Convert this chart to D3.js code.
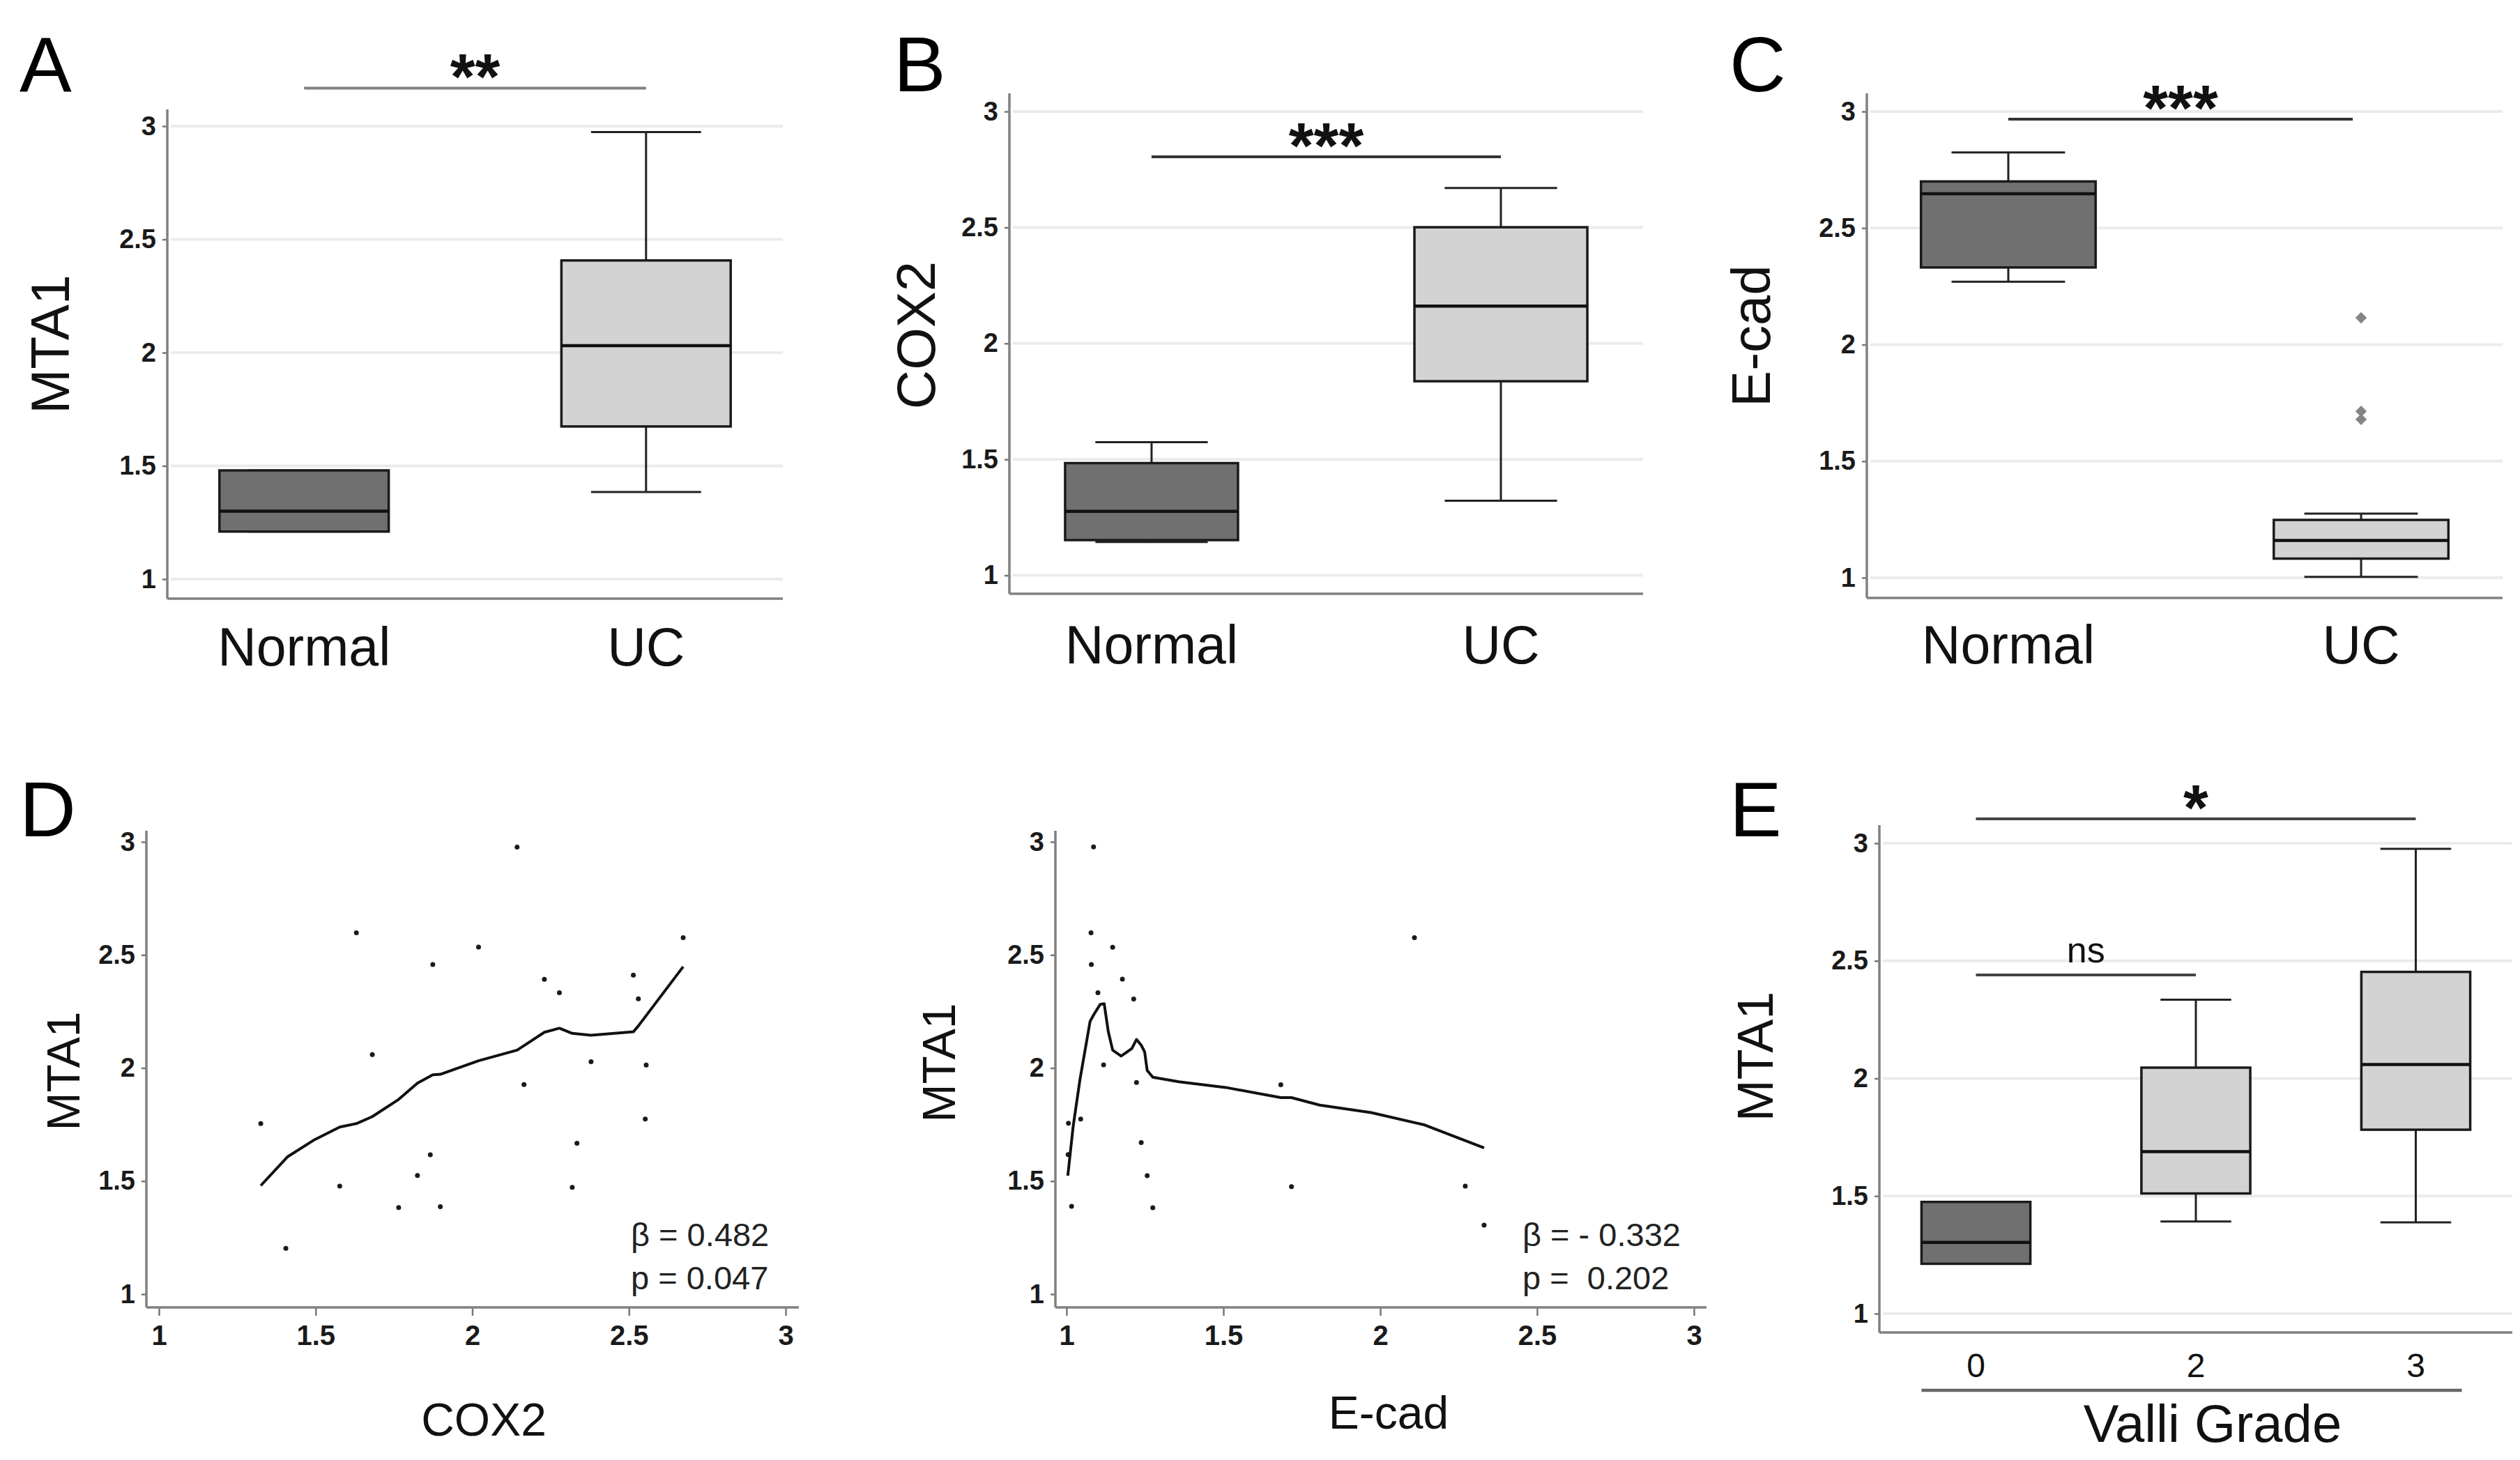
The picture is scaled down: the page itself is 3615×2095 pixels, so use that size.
<!DOCTYPE html>
<html>
<head>
<meta charset="utf-8">
<script src="https://cdn.jsdelivr.net/npm/d3@7"></script>
<style>
    body { margin: 0; background: #fff; }
    svg { display: block; font-family: "Liberation Sans", Arial, sans-serif; }
</style>
</head>
<body>
<svg id="fig"></svg>
<script>
// ---- data ----
// box stats are [min, q1, median, q3, max]
const groupCats = ['Normal', 'UC'];
const gradeCats = ['0', '2', '3'];
const yTicks = [1, 1.5, 2, 2.5, 3];
const xTicks = [1, 1.5, 2, 2.5, 3];

const mta1Stats = [[1.21, 1.21, 1.30, 1.48, 1.48], [1.385, 1.674, 2.031, 2.407, 2.974]];
const cox2Stats = [[1.144, 1.152, 1.276, 1.484, 1.574], [1.322, 1.837, 2.161, 2.501, 2.670]];
const ecadStats = [[2.270, 2.331, 2.647, 2.700, 2.824], [1.004, 1.082, 1.160, 1.248, 1.275]];
const ecadOutliers = [[], [2.115, 1.714, 1.679]];
const gradeStats = [[1.212, 1.212, 1.303, 1.475, 1.475], [1.392, 1.511, 1.689, 2.046, 2.335], [1.388, 1.782, 2.059, 2.453, 2.976]];

// panel D, left: MTA1 vs COX2
const cox2X = [1.325, 1.405, 1.577, 1.630, 1.681, 1.765, 1.825, 1.866, 1.874, 1.898, 2.020, 2.143,
    2.165, 2.230, 2.278, 2.319, 2.334, 2.379, 2.514, 2.530, 2.555, 2.552, 2.673];
const cox2MtaY = [1.754, 1.203, 1.478, 2.598, 2.059, 1.383, 1.525, 1.616, 2.458, 1.387, 2.535, 2.977,
    1.927, 2.392, 2.333, 1.472, 1.667, 2.028, 2.411, 2.306, 2.013, 1.774, 2.576];
const cox2FitX = [1.325, 1.411, 1.493, 1.577, 1.630, 1.681, 1.765, 1.825, 1.874, 1.898, 2.020, 2.143,
    2.230, 2.278, 2.319, 2.379, 2.514, 2.530, 2.673];
const cox2FitY = [1.480, 1.608, 1.680, 1.739, 1.754, 1.785, 1.861, 1.933, 1.970, 1.972, 2.032, 2.079,
    2.158, 2.176, 2.153, 2.145, 2.160, 2.186, 2.448];

// panel D, right: MTA1 vs E-cad
const ecadX = [1.086, 1.078, 1.147, 1.079, 1.178, 1.100, 1.214, 1.118, 1.223, 1.683, 1.045, 1.006,
    1.005, 1.238, 1.257, 1.016, 1.275, 1.717, 2.109, 2.271, 2.331];
const ecadMtaY = [2.978, 2.598, 2.534, 2.458, 2.393, 2.333, 2.305, 2.014, 1.936, 1.926, 1.774, 1.756,
    1.617, 1.670, 1.524, 1.388, 1.382, 1.475, 2.576, 1.478, 1.305];
const ecadFitX = [1.004, 1.021, 1.043, 1.075, 1.088, 1.107, 1.120, 1.133, 1.147, 1.174, 1.208, 1.223,
    1.238, 1.249, 1.257, 1.275, 1.358, 1.507, 1.683, 1.717, 1.807, 1.971, 2.142, 2.331];
const ecadFitY = [1.524, 1.741, 1.951, 2.206, 2.239, 2.281, 2.284, 2.161, 2.079, 2.053, 2.086, 2.126,
    2.101, 2.071, 1.989, 1.959, 1.939, 1.914, 1.869, 1.869, 1.836, 1.803, 1.748, 1.647];

const W = 3615, H = 2095;
const FONT_TICK = 38;
const DARK = '#707070', LIGHT = '#d3d3d3';

const svg = d3.select('#fig').attr('width', W).attr('height', H);
svg.append('rect').attr('width', W).attr('height', H).attr('fill', '#fff');

// panel letters
[['A', 28, 131], ['B', 1282, 131], ['C', 2481, 131], ['D', 28, 1200], ['E', 2481, 1200]].forEach(([t, x, y]) => {
    svg.append('text').attr('x', x).attr('y', y).attr('font-size', 112).attr('fill', '#000').text(t);
});

function yLabel(g, text, cx, cy, size) {
    g.append('text')
        .attr('transform', `translate(${cx + size * 0.358},${cy}) rotate(-90)`)
        .attr('text-anchor', 'middle')
        .attr('font-size', size)
        .attr('fill', '#111')
        .text(text);
}

function drawYAxis(g, y, x0, yTop, yBot) {
    const ax = g.append('g')
        .attr('transform', `translate(${x0},0)`)
        .call(d3.axisLeft(y).tickValues(yTicks).tickFormat(d3.format('')).tickSize(7).tickPadding(9));
    ax.select('.domain').remove();
    ax.selectAll('.tick line').attr('stroke', '#777').attr('stroke-width', 2.5);
    ax.selectAll('.tick text')
        .attr('font-size', FONT_TICK).attr('font-weight', 'bold').attr('fill', '#1a1a1a')
        .attr('font-family', '"Liberation Sans", Arial, sans-serif');
    g.append('line').attr('x1', x0).attr('x2', x0).attr('y1', yTop).attr('y2', yBot)
        .attr('stroke', '#808080').attr('stroke-width', 3.5);
}

function sigBar(g, xa, xb, yy, label, color, kind) {
    g.append('line').attr('x1', xa).attr('x2', xb).attr('y1', yy).attr('y2', yy)
        .attr('stroke', color).attr('stroke-width', 4);
    const t = g.append('text').attr('x', (xa + xb) / 2).attr('text-anchor', 'middle').attr('fill', '#111');
    if (kind === 'ns') {
        t.attr('y', yy - 18).attr('font-size', 52).text(label);
    } else {
        t.attr('y', yy + 16).attr('font-size', 92).attr('font-weight', 'bold').text(label);
    }
}

// box plot panel
function boxPanel(cfg) {
    const g = svg.append('g');
    const y = d3.scaleLinear().domain([1, 3]).range([cfg.y1, cfg.y3]);
    const x = d3.scalePoint().domain(cfg.cats).range([cfg.x0, cfg.x1]).padding(cfg.pad);
    const bw = x.step() * 0.495;
    const cw = bw * 0.65;

    // grid
    g.selectAll('.grid').data(yTicks).enter().append('line')
        .attr('x1', cfg.x0 + 5).attr('x2', cfg.x1)
        .attr('y1', d => y(d)).attr('y2', d => y(d))
        .attr('stroke', '#ebebeb').attr('stroke-width', 4);

    drawYAxis(g, y, cfg.x0, cfg.yTop, cfg.yBot);
    g.append('line').attr('x1', cfg.x0).attr('x2', cfg.x1).attr('y1', cfg.yBot).attr('y2', cfg.yBot)
        .attr('stroke', '#808080').attr('stroke-width', 3.5);

    const boxes = g.selectAll('.box').data(cfg.stats).enter().append('g')
        .attr('transform', (d, i) => `translate(${x(cfg.cats[i])},0)`);
    // whiskers
    boxes.append('line').attr('x1', 0).attr('x2', 0).attr('y1', d => y(d[4])).attr('y2', d => y(d[3]))
        .attr('stroke', '#222').attr('stroke-width', 3);
    boxes.append('line').attr('x1', 0).attr('x2', 0).attr('y1', d => y(d[1])).attr('y2', d => y(d[0]))
        .attr('stroke', '#222').attr('stroke-width', 3);
    boxes.append('line').attr('x1', -cw / 2).attr('x2', cw / 2).attr('y1', d => y(d[4])).attr('y2', d => y(d[4]))
        .attr('stroke', '#222').attr('stroke-width', 3);
    boxes.append('line').attr('x1', -cw / 2).attr('x2', cw / 2).attr('y1', d => y(d[0])).attr('y2', d => y(d[0]))
        .attr('stroke', '#222').attr('stroke-width', 3);
    // box
    boxes.append('rect').attr('x', -bw / 2).attr('width', bw)
        .attr('y', d => y(d[3])).attr('height', d => y(d[1]) - y(d[3]))
        .attr('fill', (d, i) => cfg.fills[i]).attr('stroke', '#1a1a1a').attr('stroke-width', 3.5);
    boxes.append('line').attr('x1', -bw / 2).attr('x2', bw / 2).attr('y1', d => y(d[2])).attr('y2', d => y(d[2]))
        .attr('stroke', '#111').attr('stroke-width', 4.5);

    if (cfg.outliers) {
        cfg.outliers.forEach((arr, i) => {
            g.selectAll(null).data(arr).enter().append('path')
                .attr('d', d3.symbol(d3.symbolDiamond2, 170))
                .attr('transform', d => `translate(${x(cfg.cats[i])},${y(d)})`)
                .attr('fill', '#858585');
        });
    }

    // category labels
    g.selectAll('.cat').data(cfg.cats).enter().append('text')
        .attr('x', d => x(d)).attr('y', cfg.catY)
        .attr('text-anchor', 'middle').attr('font-size', cfg.catSize).attr('fill', '#111')
        .text(d => d);

    return { g, x, y, bw };
}

// scatter panel
function scatterPanel(cfg) {
    const g = svg.append('g');
    const y = d3.scaleLinear().domain([1, 3]).range([cfg.y1, cfg.y3]);
    const x = d3.scaleLinear().domain([1, 3]).range([cfg.xv1, cfg.xv3]);

    drawYAxis(g, y, cfg.x0, cfg.yTop, cfg.yBot);
    const ax = g.append('g').attr('transform', `translate(0,${cfg.yBot})`)
        .call(d3.axisBottom(x).tickValues(xTicks).tickFormat(d3.format('')).tickSize(12).tickPadding(14));
    ax.select('.domain').remove();
    ax.selectAll('.tick line').attr('stroke', '#777').attr('stroke-width', 2.5);
    ax.selectAll('.tick text')
        .attr('font-size', FONT_TICK + 2).attr('font-weight', 'bold').attr('fill', '#1a1a1a')
        .attr('font-family', '"Liberation Sans", Arial, sans-serif');
    g.append('line').attr('x1', cfg.x0).attr('x2', cfg.x1).attr('y1', cfg.yBot).attr('y2', cfg.yBot)
        .attr('stroke', '#808080').attr('stroke-width', 3.5);

    g.selectAll('.pt').data(cfg.xs).enter().append('circle')
        .attr('cx', d => x(d)).attr('cy', (d, i) => y(cfg.ys[i]))
        .attr('r', 3.5).attr('fill', '#1a1a1a');

    const line = d3.line().x(d => x(d[0])).y(d => y(d[1]));
    g.append('path').datum(cfg.fitX.map((v, i) => [v, cfg.fitY[i]]))
        .attr('d', line).attr('fill', 'none').attr('stroke', '#111').attr('stroke-width', 4)
        .attr('stroke-linejoin', 'round');

    cfg.stats.forEach((s, i) => {
        g.append('text').attr('x', cfg.statX).attr('y', cfg.statY + i * 62)
            .attr('font-size', 47).attr('fill', '#222').style('white-space', 'pre')
            .text(s);
    });

    yLabel(g, cfg.yTitle, cfg.yTitleX, cfg.yTitleY, 66);
    g.append('text').attr('x', cfg.xTitleX).attr('y', cfg.xTitleY)
        .attr('text-anchor', 'middle').attr('font-size', 66).attr('fill', '#111').text(cfg.xTitle);
}

// ---- A ----
const pA = boxPanel({ cats: groupCats, stats: mta1Stats, fills: [DARK, LIGHT],
    x0: 240, x1: 1123, pad: 0.4, y1: 831, y3: 181, yTop: 157, yBot: 859, catY: 955, catSize: 77 });
yLabel(svg, 'MTA1', 71, 494, 77);
sigBar(pA.g, pA.x('Normal'), pA.x('UC'), pA.y(3.168), '**', '#808080');

// ---- B ----
const pB = boxPanel({ cats: groupCats, stats: cox2Stats, fills: [DARK, LIGHT],
    x0: 1448, x1: 2357, pad: 0.407, y1: 825.6, y3: 160, yTop: 134, yBot: 852, catY: 952, catSize: 77 });
yLabel(svg, 'COX2', 1313, 481, 78);
sigBar(pB.g, pB.x('Normal'), pB.x('UC'), pB.y(2.805), '***', '#333');

// ---- C ----
const pC = boxPanel({ cats: groupCats, stats: ecadStats, fills: [DARK, LIGHT], outliers: ecadOutliers,
    x0: 2678, x1: 3590, pad: 0.401, y1: 829, y3: 160, yTop: 134, yBot: 858, catY: 952, catSize: 77 });
yLabel(svg, 'E-cad', 2511, 482, 78);
sigBar(pC.g, pC.x('Normal'), pC.x('UC') - 12, pC.y(2.967), '***', '#333');

// ---- D ----
scatterPanel({ xs: cox2X, ys: cox2MtaY, fitX: cox2FitX, fitY: cox2FitY,
    x0: 210, x1: 1146, xv1: 228, xv3: 1127, y1: 1857, y3: 1208, yTop: 1192, yBot: 1876,
    stats: ['β = 0.482', 'p = 0.047'], statX: 905, statY: 1788,
    yTitle: 'MTA1', yTitleX: 90, yTitleY: 1537, xTitle: 'COX2', xTitleX: 694, xTitleY: 2060 });
scatterPanel({ xs: ecadX, ys: ecadMtaY, fitX: ecadFitX, fitY: ecadFitY,
    x0: 1514, x1: 2448, xv1: 1530, xv3: 2430, y1: 1857, y3: 1208, yTop: 1192, yBot: 1876,
    stats: ['β = - 0.332', 'p =  0.202'], statX: 2184, statY: 1788,
    yTitle: 'MTA1', yTitleX: 1346, yTitleY: 1525, xTitle: 'E-cad', xTitleX: 1992, xTitleY: 2050 });

// ---- E ----
const pE = boxPanel({ cats: gradeCats, stats: gradeStats, fills: [DARK, LIGHT, LIGHT],
    x0: 2696, x1: 3604, pad: 0.439, y1: 1885, y3: 1210, yTop: 1184, yBot: 1912, catY: 1976, catSize: 48 });
yLabel(svg, 'MTA1', 2517, 1516, 72);
sigBar(pE.g, pE.x('0'), pE.x('3'), pE.y(3.104), '*', '#444');
sigBar(pE.g, pE.x('0'), pE.x('2'), pE.y(2.44), 'ns', '#444', 'ns');
pE.g.append('line')
    .attr('x1', pE.x('0') - pE.bw / 2).attr('x2', pE.x('3') + pE.bw / 2 - 12)
    .attr('y1', 1995).attr('y2', 1995).attr('stroke', '#666').attr('stroke-width', 4.5);
pE.g.append('text').attr('x', 3174).attr('y', 2069).attr('text-anchor', 'middle')
    .attr('font-size', 76).attr('fill', '#111').text('Valli Grade');
</script>
</body>
</html>
